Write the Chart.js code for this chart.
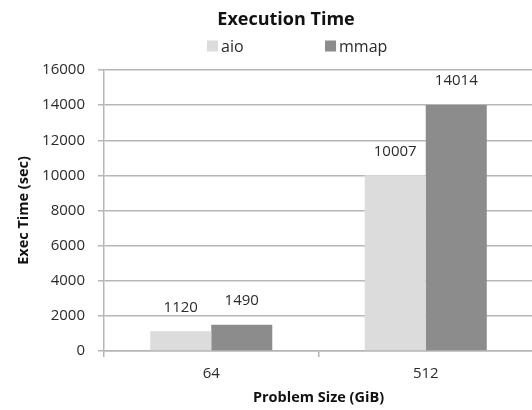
<!DOCTYPE html>
<html>
<head>
<meta charset="utf-8">
<script src="https://cdn.jsdelivr.net/npm/chart.js@4/dist/chart.umd.min.js"></script>
<style>
  html, body { margin: 0; padding: 0; background: #fff; overflow: hidden; }
  #wrap { width: 572px; height: 410px; }
</style>
</head>
<body>
<div id="wrap"><canvas id="c"></canvas></div>
<script>
// Problem sizes (GiB) on the x axis
const categories = ['64', '512'];
// Execution time in seconds for each I/O method
const aioTimes = [1120, 10007];
const mmapTimes = [1490, 14014];
const seriesNames = ['aio', 'mmap'];
// Value axis range
const yMin = 0;
const yMax = 16000;
const yStep = 2000;

const FONT = "'Open Sans', 'Liberation Sans', sans-serif";
const TEXT = '#2b2b2b';
const GRID = '#b6b6b6';

// Value labels drawn above each bar
const barValueLabels = {
  id: 'barValueLabels',
  afterDatasetsDraw(chart) {
    const ctx = chart.ctx;
    ctx.save();
    ctx.font = '15px ' + FONT;
    ctx.fillStyle = TEXT;
    ctx.textAlign = 'center';
    ctx.textBaseline = 'middle';
    chart.data.datasets.forEach((ds, i) => {
      const meta = chart.getDatasetMeta(i);
      meta.data.forEach((el, j) => {
        ctx.fillText(String(ds.data[j]), el.x, el.y - 24);
      });
    });
    ctx.restore();
  }
};

// Legend row under the title: square swatch followed by the series name
const topLegend = {
  id: 'topLegend',
  afterDraw(chart) {
    const ctx = chart.ctx;
    ctx.save();
    ctx.font = '16px ' + FONT;
    ctx.textBaseline = 'middle';
    ctx.textAlign = 'left';
    const startX = 207, slot = 118, cy = 46, box = 11;
    chart.data.datasets.forEach((ds, i) => {
      const x = startX + i * slot;
      ctx.fillStyle = ds.backgroundColor;
      ctx.fillRect(x, cy - box / 2, box, box);
      ctx.fillStyle = TEXT;
      ctx.fillText(ds.label, x + box + 3, cy + 1);
    });
    ctx.restore();
  }
};

new Chart(document.getElementById('c'), {
  type: 'bar',
  data: {
    labels: categories,
    datasets: [
      { label: seriesNames[0], data: aioTimes, backgroundColor: '#dcdcdc' },
      { label: seriesNames[1], data: mmapTimes, backgroundColor: '#8c8c8c' }
    ]
  },
  options: {
    responsive: true,
    maintainAspectRatio: false,
    animation: false,
    devicePixelRatio: 1,
    layout: { padding: 0 },
    datasets: { bar: { categoryPercentage: 0.569, barPercentage: 1.0, borderWidth: 0 } },
    plugins: {
      legend: { display: false },
      tooltip: { enabled: false },
      title: {
        display: true,
        text: 'Execution Time',
        color: '#111',
        font: { family: FONT, size: 18, weight: 'bold' },
        padding: { top: 9, bottom: 39.4 }
      }
    },
    scales: {
      x: {
        afterFit(scale) { scale.height = 59; },
        grid: { display: true, drawOnChartArea: false, drawTicks: true, tickLength: 6, color: GRID, lineWidth: 1.5, offset: true },
        border: { display: true, color: GRID, width: 1.5 },
        ticks: { color: TEXT, font: { family: FONT, size: 15 }, padding: 8 },
        title: {
          display: true,
          text: 'Problem Size (GiB)',
          color: '#111',
          font: { family: FONT, size: 14.5, weight: 'bold' },
          padding: { top: 0, bottom: 3.3 }
        }
      },
      y: {
        min: yMin,
        max: yMax,
        afterFit(scale) { scale.width = 104; },
        grid: { color: GRID, lineWidth: 1.5, tickLength: 6, drawTicks: true },
        border: { display: true, color: GRID, width: 1.5 },
        ticks: {
          stepSize: yStep,
          color: TEXT,
          font: { family: FONT, size: 15 },
          padding: 13,
          callback: (v) => String(v)
        },
        title: {
          display: true,
          text: 'Exec Time (sec)',
          color: '#111',
          font: { family: FONT, size: 14.5, weight: 'bold' },
          padding: { top: 15.3, bottom: 0 }
        }
      },
      // empty right-hand margin beside the plot area
      margin: {
        type: 'linear',
        position: 'right',
        afterFit(scale) { scale.width = 39; },
        grid: { display: false, drawTicks: false },
        border: { display: false },
        ticks: { display: false }
      }
    }
  },
  plugins: [barValueLabels, topLegend]
});
</script>
</body>
</html>
